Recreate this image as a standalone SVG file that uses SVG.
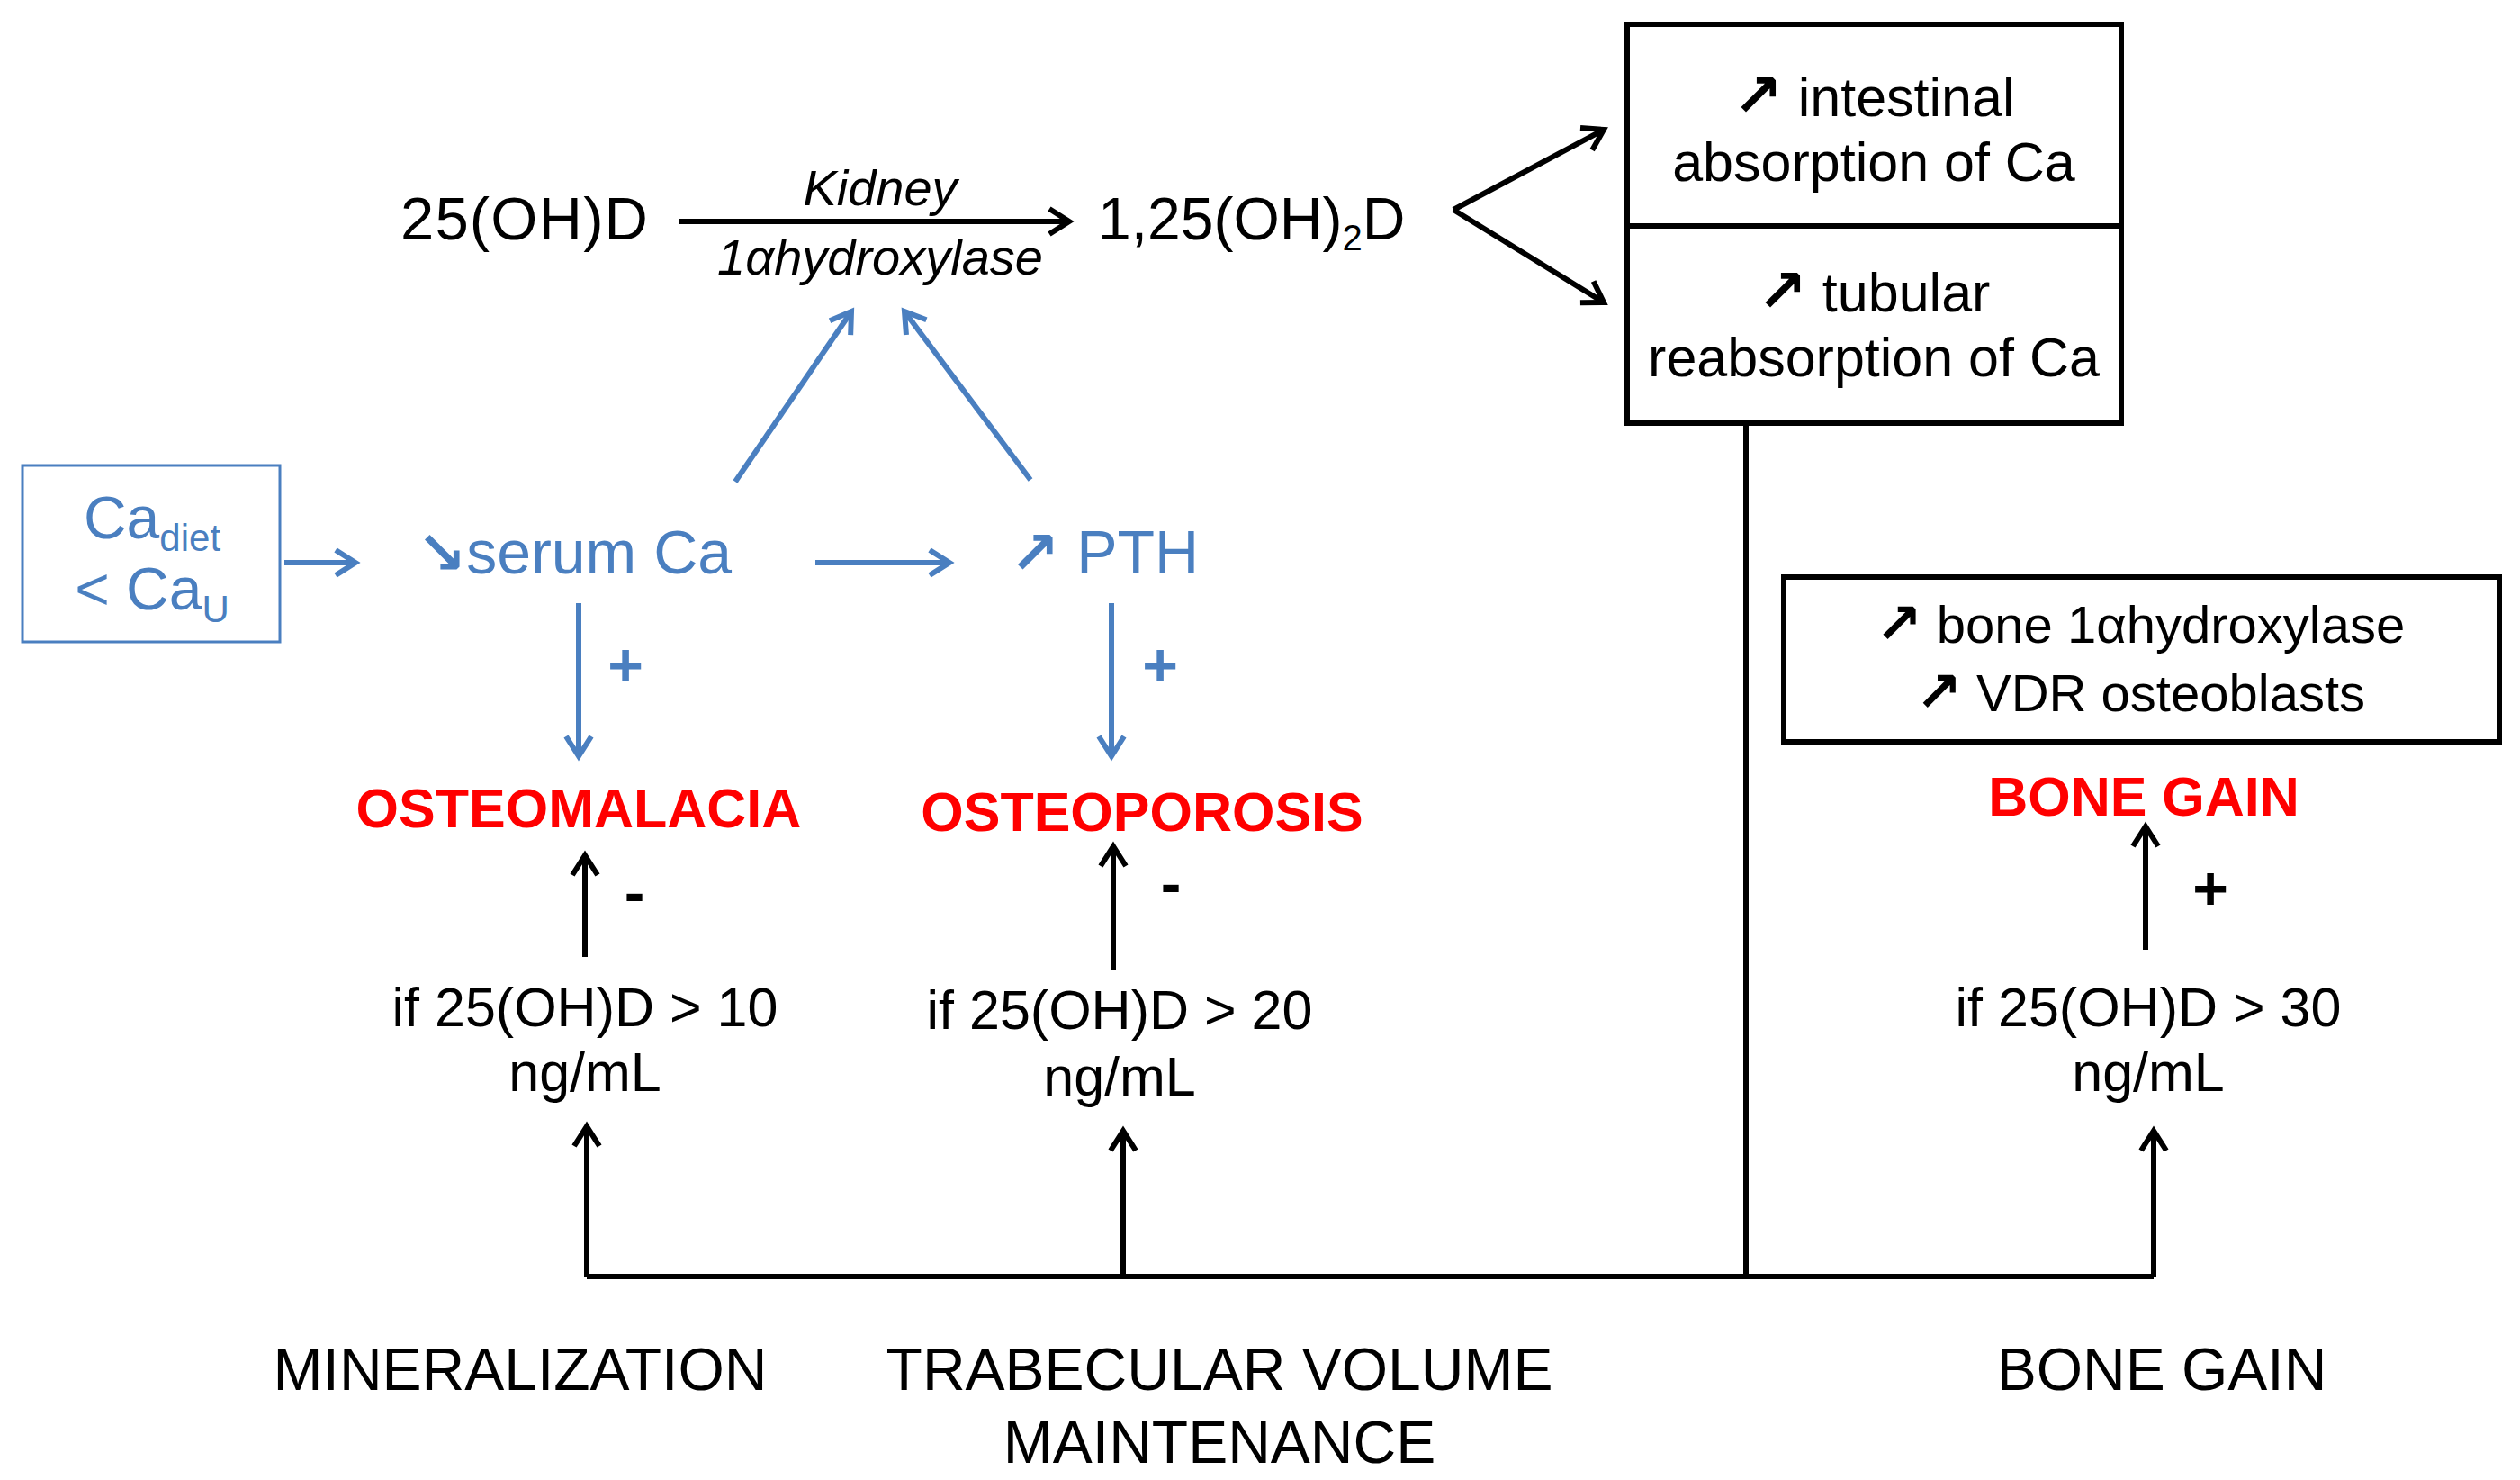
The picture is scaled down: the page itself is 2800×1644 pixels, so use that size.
<svg xmlns="http://www.w3.org/2000/svg" width="2800" height="1644" viewBox="0 0 2800 1644">
<style>
text{font-family:"Liberation Sans",Arial,sans-serif;fill:#000}
.b{fill:#4a7fc0}
.r{fill:#ff0000;font-weight:bold}
.k{stroke:#000;stroke-width:6;fill:none}
.bl{stroke:#4a7fc0;stroke-width:6;fill:none}
.ar{font-family:"DejaVu Sans",sans-serif;font-weight:bold}
</style>
<defs>
<marker id="mk" markerWidth="10" markerHeight="10" refX="8" refY="5" orient="auto" markerUnits="userSpaceOnUse" viewBox="0 0 10 10" style="overflow:visible"><path d="M-14,-9 L8,5 L-14,19" stroke="#000" stroke-width="6" fill="none"/></marker>
<marker id="mb" markerWidth="10" markerHeight="10" refX="8" refY="5" orient="auto" markerUnits="userSpaceOnUse" viewBox="0 0 10 10" style="overflow:visible"><path d="M-14,-9 L8,5 L-14,19" stroke="#4a7fc0" stroke-width="6" fill="none"/></marker>
</defs>
<g id="n25"><text x="445" y="266" font-size="67" textLength="275">25(OH)D</text></g>
<g id="enz"><text x="978" y="228" font-size="56" font-style="italic" text-anchor="middle">Kidney</text><text x="978" y="305" font-size="56" font-style="italic" text-anchor="middle">1αhydroxylase</text></g>
<g id="n125"><text x="1220" y="266" font-size="66">1,25(OH)<tspan font-size="40" dy="12">2</tspan><tspan dy="-12">D</tspan></text></g>
<g id="abs"><rect x="1808" y="27" width="549" height="443" class="k" stroke-width="4"/><line x1="1808" y1="251" x2="2357" y2="251" class="k" stroke-width="4"/>
<text x="2082" y="129" font-size="61" text-anchor="middle"><tspan class="ar" font-size="66">↗</tspan> intestinal</text>
<text x="2082" y="201" font-size="61" text-anchor="middle">absorption of Ca</text>
<text x="2082" y="346" font-size="61" text-anchor="middle"><tspan class="ar" font-size="66">↗</tspan> tubular</text>
<text x="2082" y="418" font-size="61" text-anchor="middle">reabsorption of Ca</text></g>
<g id="bonebox"><rect x="1982" y="641" width="795" height="183" class="k" stroke-width="4"/>
<text x="2378" y="714" font-size="58" text-anchor="middle"><tspan class="ar" font-size="62">↗</tspan> bone 1αhydroxylase</text>
<text x="2378" y="790" font-size="58" text-anchor="middle"><tspan class="ar" font-size="62">↗</tspan> VDR osteoblasts</text></g>
<g id="ca"><rect x="25" y="517" width="286" height="196" fill="none" stroke="#4a7fc0" stroke-width="3"/>
<text class="b" x="169" y="598" font-size="66" text-anchor="middle">Ca<tspan font-size="42" dy="14">diet</tspan></text>
<text class="b" x="169" y="677" font-size="66" text-anchor="middle">&lt; Ca<tspan font-size="42" dy="14">U</tspan></text></g>
<g id="serum"><text class="b" x="463" y="637" font-size="68"><tspan class="ar" font-size="66">↘</tspan>serum Ca</text></g>
<g id="pth"><text class="b" x="1122" y="637" font-size="68"><tspan class="ar" font-size="66">↗</tspan> PTH</text></g>
<g id="om"><text class="r" x="643" y="919" font-size="61" text-anchor="middle">OSTEOMALACIA</text></g>
<g id="op"><text class="r" x="1269" y="923" font-size="61" text-anchor="middle">OSTEOPOROSIS</text></g>
<g id="bg"><text class="r" x="2382" y="906" font-size="61" text-anchor="middle">BONE GAIN</text></g>
<g id="c10" font-size="61"><text x="650" y="1140" text-anchor="middle">if 25(OH)D &gt; 10</text><text x="650" y="1212" text-anchor="middle">ng/mL</text></g>
<g id="c20" font-size="61"><text x="1244" y="1143" text-anchor="middle">if 25(OH)D &gt; 20</text><text x="1244" y="1217" text-anchor="middle">ng/mL</text></g>
<g id="c30" font-size="61"><text x="2387" y="1140" text-anchor="middle">if 25(OH)D &gt; 30</text><text x="2387" y="1212" text-anchor="middle">ng/mL</text></g>
<g id="labels" font-size="66"><text x="578" y="1544" text-anchor="middle">MINERALIZATION</text><text x="1355" y="1544" text-anchor="middle">TRABECULAR VOLUME</text><text x="1355" y="1625" text-anchor="middle">MAINTENANCE</text><text x="2402" y="1544" text-anchor="middle">BONE GAIN</text></g>
<g id="signs" font-size="68" font-weight="bold">
<text class="b" x="695" y="762" text-anchor="middle">+</text><text class="b" x="1289" y="762" text-anchor="middle">+</text>
<text x="705" y="1015" text-anchor="middle">-</text><text x="1301" y="1005" text-anchor="middle">-</text><text x="2456" y="1010" text-anchor="middle">+</text></g>
<g id="connectors">
<line x1="754" y1="246" x2="1188" y2="246" class="k" marker-end="url(#mk)"/>
<line x1="1615" y1="233" x2="1782" y2="144" class="k" marker-end="url(#mk)"/>
<line x1="1615" y1="233" x2="1782" y2="336" class="k" marker-end="url(#mk)"/>
<polyline points="1940,470 1940,1418" class="k"/>
<polyline points="652,1418 2393,1418" class="k"/>
<line x1="652" y1="1418" x2="652" y2="1251" class="k" marker-end="url(#mk)"/>
<line x1="1248" y1="1418" x2="1248" y2="1256" class="k" marker-end="url(#mk)"/>
<line x1="2393" y1="1418" x2="2393" y2="1256" class="k" marker-end="url(#mk)"/>
<line x1="2384" y1="1055" x2="2384" y2="918" class="k" marker-end="url(#mk)"/>
<line x1="650" y1="1063" x2="650" y2="950" class="k" marker-end="url(#mk)"/>
<line x1="1237" y1="1077" x2="1237" y2="940" class="k" marker-end="url(#mk)"/>
<line x1="316" y1="625" x2="395" y2="625" class="bl" marker-end="url(#mb)"/>
<line x1="906" y1="625" x2="1055" y2="625" class="bl" marker-end="url(#mb)"/>
<line x1="817" y1="535" x2="946" y2="346" class="bl" marker-end="url(#mb)"/>
<line x1="1145" y1="533" x2="1005" y2="346" class="bl" marker-end="url(#mb)"/>
<line x1="643" y1="670" x2="643" y2="840" class="bl" marker-end="url(#mb)"/>
<line x1="1235" y1="670" x2="1235" y2="840" class="bl" marker-end="url(#mb)"/>
</g>
</svg>
